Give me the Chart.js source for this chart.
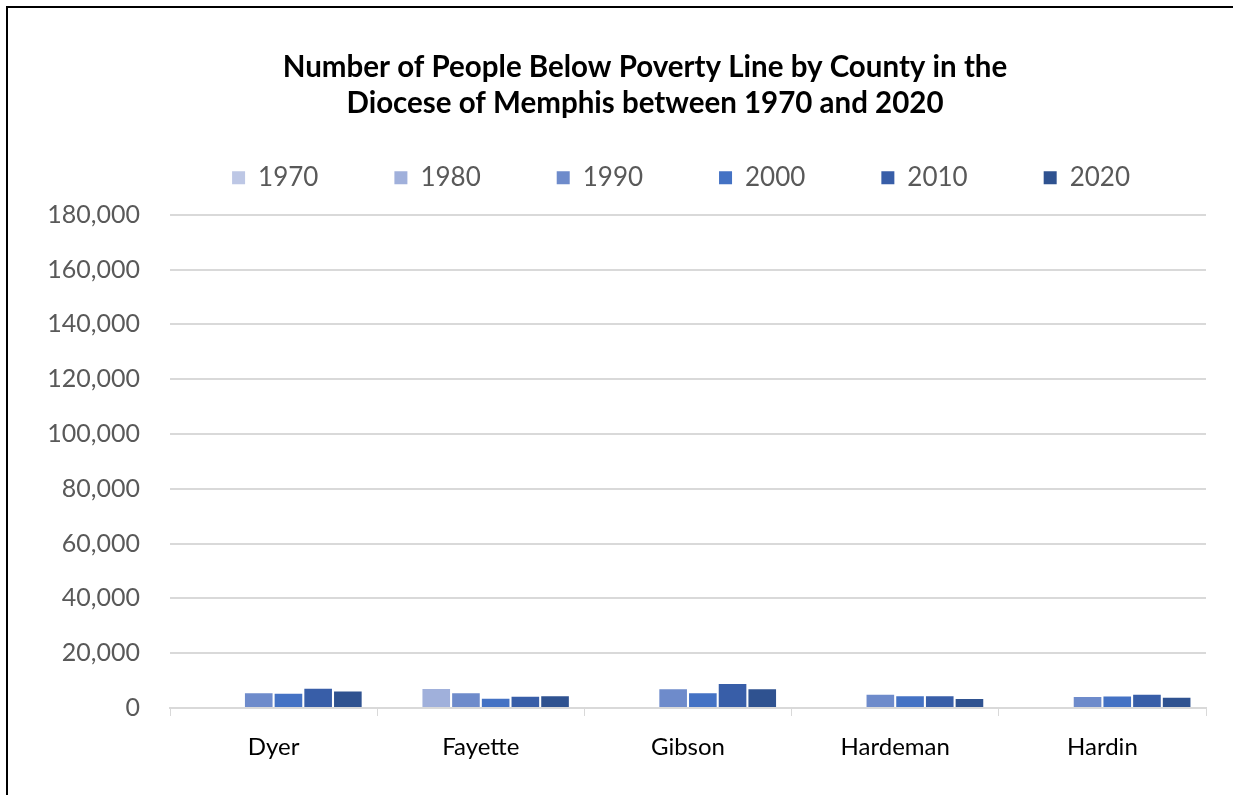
<!DOCTYPE html>
<html>
<head>
<meta charset="utf-8">
<script src="https://cdn.jsdelivr.net/npm/chart.js@4"></script>
<style>
  html, body { margin: 0; padding: 0; background: #fff; }
  #wrap { position: relative; width: 1233px; height: 795px; overflow: hidden; }
  #frame { position: absolute; left: 6px; top: 6px; width: 1300px; height: 900px;
           border-top: 2px solid #000; border-left: 2px solid #000; }
  canvas { position: absolute; left: 0; top: 0; }
</style>
</head>
<body>
<div id="wrap">
  <div id="frame"></div>
  <canvas id="chart" width="1233" height="795"></canvas>
</div>
<script>
var counties = ['Dyer', 'Fayette', 'Gibson', 'Hardeman', 'Hardin'];
var years = ['1970', '1980', '1990', '2000', '2010', '2020'];
var v1970 = [null, null, null, null, null];
var v1980 = [null, 6900, null, null, null];
var v1990 = [5400, 5400, 6800, 4800, 4000];
var v2000 = [5200, 3400, 5400, 4300, 4200];
var v2010 = [7000, 4100, 8800, 4300, 4800];
var v2020 = [6000, 4300, 6800, 3300, 3700];
var colors = ['#bdc7e5', '#a0b0db', '#6e8bcb', '#4472c4', '#385ea8', '#2f5290'];

document.addEventListener("DOMContentLoaded", function() {
    var series = [v1970, v1980, v1990, v2000, v2010, v2020];
    var font = 'Lato, "Open Sans", sans-serif';
    var ctx = document.getElementById("chart").getContext("2d");

    // y labels are drawn mirrored so they are not clipped to the narrow axis box
    ctx.font = '25px ' + font;
    var widest = ctx.measureText('180,000').width;

    var chart = new Chart(ctx, {
        type: 'bar',
        data: {
            labels: counties,
            datasets: years.map(function(y, i) {
                return {
                    label: y,
                    data: series[i],
                    backgroundColor: colors[i],
                    borderWidth: 0,
                    barPercentage: 0.93,
                    categoryPercentage: 0.86
                };
            })
        },
        options: {
            responsive: false,
            animation: false,
            layout: { padding: { left: 84, right: 27, top: 10, bottom: 17 } },
            plugins: {
                title: {
                    display: true,
                    text: ['Number of People Below Poverty Line by County in the', 'Diocese of Memphis between 1970 and 2020'],
                    color: '#000',
                    font: { family: font, size: 29.5, weight: 'bold', lineHeight: 1.2 },
                    padding: { top: 40, bottom: -32 }
                },
                legend: {
                    position: 'top',
                    align: 'end',
                    labels: {
                        color: '#595959',
                        font: { family: font, size: 26 },
                        boxWidth: 13,
                        boxHeight: 13,
                        padding: 76
                    }
                },
                tooltip: { enabled: false }
            },
            scales: {
                x: {
                    grid: { display: true, drawOnChartArea: false, color: '#d9d9d9', tickLength: 8, offset: true },
                    border: { color: '#d9d9d9', width: 2 },
                    ticks: { color: '#000', font: { family: font, size: 24 }, padding: 17 },
                    afterFit: function(s) { s.height = 70; }
                },
                spacer: {
                    type: 'category',
                    position: 'top',
                    grid: { display: false },
                    border: { display: false },
                    ticks: { display: false },
                    afterFit: function(s) { s.height = 14; }
                },
                y: {
                    min: 0,
                    max: 180000,
                    ticks: {
                        stepSize: 20000,
                        color: '#595959',
                        font: { family: font, size: 25 },
                        mirror: true,
                        crossAlign: 'far',
                        padding: -30 - widest,
                        callback: function(v) { return v.toLocaleString('en-US'); }
                    },
                    grid: { color: '#d9d9d9', lineWidth: 2, drawTicks: false },
                    border: { display: false },
                    afterFit: function(s) { s.width = 86; }
                }
            }
        }
    });
});
</script>
</body>
</html>
